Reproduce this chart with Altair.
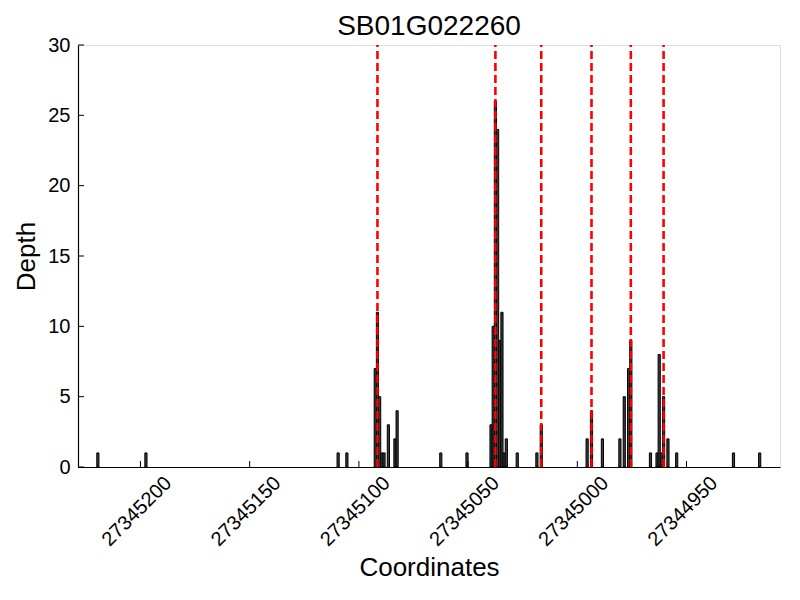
import altair as alt
import pandas as pd

chart_title = "SB01G022260"
x_title = "Coordinates"
y_title = "Depth"

# bar start coordinates (each bar spans one base) and read depths
positions = [27345219, 27345197, 27345109, 27345105,
             27345092, 27345091, 27345090, 27345089, 27345088, 27345086, 27345083, 27345082,
             27345062, 27345050,
             27345039, 27345038, 27345037, 27345036, 27345035, 27345034, 27345033, 27345032,
             27345027, 27345018, 27345016,
             27344995, 27344993, 27344988,
             27344980, 27344978, 27344976, 27344975,
             27344966, 27344963, 27344962, 27344961, 27344960, 27344958, 27344954,
             27344928, 27344916]
depths = [1, 1, 1, 1,
          7, 11, 5, 1, 1, 3, 2, 4,
          1, 1,
          3, 10, 26, 24, 9, 11, 1, 2,
          1, 1, 3,
          2, 4, 2,
          2, 5, 7, 9,
          1, 1, 8, 1, 5, 2, 1,
          1, 1]

# highlighted sites (red dashed lines)
red_sites = [27345091, 27345037, 27345016, 27344993, 27344975, 27344960]

x_ticks = [27345200, 27345150, 27345100, 27345050, 27345000, 27344950]
y_ticks = [0, 5, 10, 15, 20, 25, 30]
x_domain = [27344907.2, 27345228.6]
y_domain = [0, 30]

W, H = 702, 422
FONT = "Liberation Sans"

bars_df = pd.DataFrame({"start": positions, "depth": depths})
bars_df["end"] = bars_df["start"] + 1
red_df = pd.DataFrame({"start": [s + 0.5 for s in red_sites]})
xt_df = pd.DataFrame({"start": x_ticks})
yt_df = pd.DataFrame({"depth": y_ticks})

xscale = alt.Scale(domain=x_domain, reverse=True, nice=False, zero=False)
yscale = alt.Scale(domain=y_domain, nice=False, zero=True)

xaxis = alt.Axis(values=x_ticks, format="d", labelAngle=-45, labelAlign="center",
                 labelBaseline="middle", labelPadding=44, labelOffset=-4,
                 ticks=False, grid=False, domainColor="black", domainWidth=1.2,
                 labelFontSize=20, labelFont=FONT, labelColor="black",
                 title=x_title, titleFontSize=26, titleFont=FONT,
                 titleFontWeight="normal", titleColor="black", titlePadding=5)
yaxis = alt.Axis(values=y_ticks, ticks=False, grid=False, domainColor="black",
                 domainWidth=1.2, labelFontSize=20, labelFont=FONT, labelColor="black",
                 labelPadding=8, title=y_title, titleFontSize=26, titleFont=FONT,
                 titleFontWeight="normal", titleColor="black", titlePadding=8)

X = alt.X("start:Q", scale=xscale, axis=xaxis, title=x_title)
Y = alt.Y("depth:Q", scale=yscale, axis=yaxis, title=y_title)

bars = alt.Chart(bars_df).mark_rect(fill="#3c3c3c", stroke="black", strokeWidth=1).encode(
    x=X,
    x2="end:Q",
    y=Y,
    y2=alt.datum(0),
)

red = alt.Chart(red_df).mark_rule(color="red", strokeWidth=2.6, strokeDash=[8, 4]).encode(
    x=X,
    y=alt.datum(0),
    y2=alt.datum(30),
)

xticks = alt.Chart(xt_df).mark_rule(color="black", strokeWidth=1).encode(
    x=X,
    y=alt.value(H),
    y2=alt.value(H - 6),
)

yticks = alt.Chart(yt_df).mark_rule(color="black", strokeWidth=1).encode(
    y=Y,
    x=alt.value(0),
    x2=alt.value(6),
)

chart = alt.layer(bars, red, xticks, yticks).properties(
    width=W, height=H,
    title=alt.Title(chart_title, fontSize=28, font=FONT, fontWeight="normal", color="black",
                    offset=-6),
    autosize=alt.AutoSizeParams(type="none"),
    padding={"left": 70, "top": 37, "right": 12, "bottom": 125},
).configure_view(strokeWidth=0).configure(background="white")

chart.save("out.html", embed_options={"renderer": "svg", "actions": False})
